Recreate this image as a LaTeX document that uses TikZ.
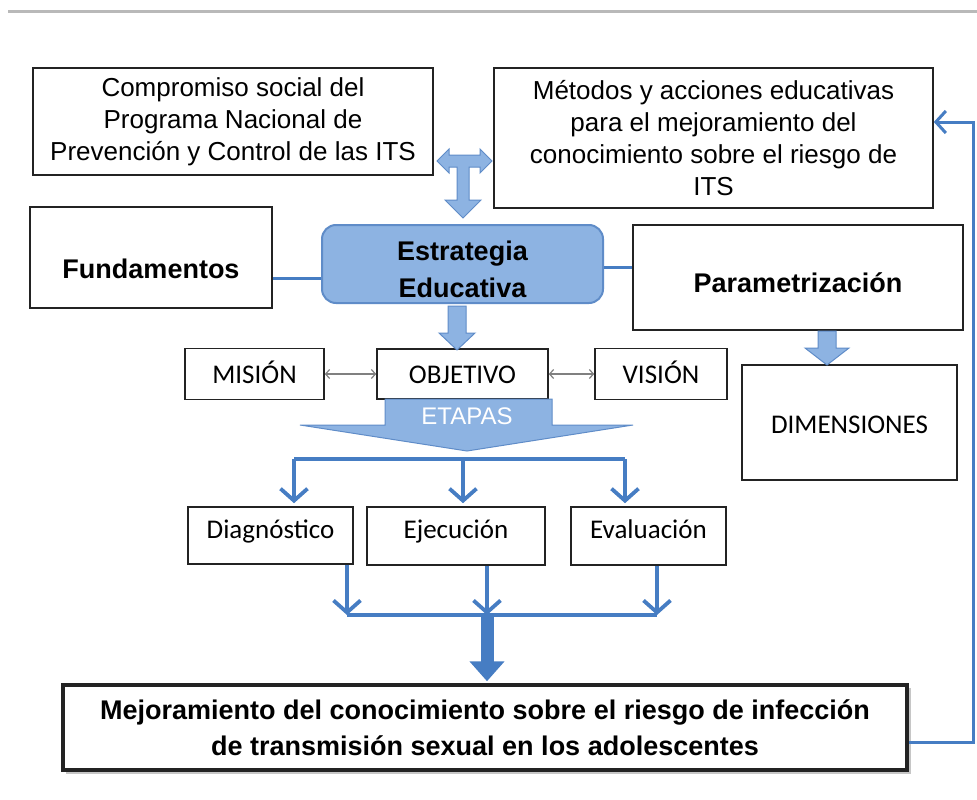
\documentclass[tikz,border=0pt]{standalone}
\usepackage{fontspec}
\setmainfont{Liberation Sans}
\newfontfamily\calfont{Carlito}
\usetikzlibrary{arrows.meta}
\definecolor{lineblue}{RGB}{70,125,195}
\definecolor{fillblue}{RGB}{141,179,226}
\definecolor{edgeblue}{RGB}{95,140,200}
\definecolor{boxline}{RGB}{35,35,35}
\begin{document}
\begin{tikzpicture}[x=1pt,y=-1pt,
  box/.style={draw=boxline, line width=1.6pt, rectangle, inner sep=0pt, align=center},
  textbox/.style={box, font=\fontsize{26}{32}\selectfont},
  boldbox/.style={box, font=\fontsize{27}{37}\selectfont\bfseries},
  calbox/.style={box, font=\calfont\fontsize{27}{32}\selectfont},
  conn/.style={draw=lineblue, line width=3.8pt},
  vArrow/.style={conn, -{Straight Barb[length=12pt,width=27pt]}},
  thinarrow/.style={draw=gray, line width=1.2pt, {Straight Barb[length=4pt,width=9pt]}-{Straight Barb[length=4pt,width=9pt]}},
  blockarrow/.style={fill=fillblue, draw=edgeblue, line width=1pt}
]
\useasboundingbox (0,0) rectangle (977,800);
\fill[white] (0,0) rectangle (977,800);
\draw[gray!55, line width=3pt] (8,12) -- (977,12);

% top boxes
\node[textbox, minimum width=400pt, minimum height=107pt] (comp) at (233,121.5)
  {Compromiso social del\\Programa Nacional de\\Prevención y Control de las ITS};
\node[textbox, minimum width=439pt, minimum height=140pt] (metodos) at (713.5,138)
  {Métodos y acciones educativas\\para el mejoramiento del\\conocimiento sobre el riesgo de\\ITS};

% middle row
\node[boldbox, minimum width=242pt, minimum height=101pt, text height=41pt, text depth=0pt] (fund) at (151,257.5) {Fundamentos};
\node[boldbox, draw=edgeblue, fill=fillblue, line width=2pt, rounded corners=14pt,
  minimum width=281pt, minimum height=78pt, text height=66pt, text depth=0pt] (estr) at (462.5,264) {Estrategia\\Educativa};
\node[boldbox, minimum width=330pt, minimum height=105pt, text height=29pt, text depth=0pt] (param) at (798,277.5) {Parametrización};

\node[calbox, minimum width=139pt, minimum height=51pt, text height=19pt, text depth=0pt] (mision) at (254.5,374) {MISIÓN};
\node[calbox, minimum width=171pt, minimum height=50pt, text height=19pt, text depth=0pt] (objetivo) at (462.5,374) {OBJETIVO};
\node[calbox, minimum width=132pt, minimum height=51pt, text height=19pt, text depth=0pt] (vision) at (661,374) {VISIÓN};
\node[calbox, minimum width=215pt, minimum height=115pt, text height=21pt, text depth=0pt] (dimen) at (849.5,422.5) {DIMENSIONES};

% stages
\node[calbox, minimum width=165pt, minimum height=57pt, text height=12pt, text depth=7pt] (diag) at (270.5,535.5) {Diagnóstico};
\node[calbox, minimum width=178pt, minimum height=58pt, text height=12pt, text depth=7pt] (ejec) at (456,536) {Ejecución};
\node[calbox, minimum width=155pt, minimum height=58pt, text height=12pt, text depth=7pt] (eval) at (648.5,536) {Evaluación};

% bottom box
\fill[gray!45] (66,688) rectangle (911,774);
\node[box, fill=white, line width=3.5pt, minimum width=844pt, minimum height=85pt,
  font=\fontsize{27}{36}\selectfont\bfseries] (bottom) at (485,727.5)
  {Mejoramiento del conocimiento sobre el riesgo de infección\\de transmisión sexual en los adolescentes};

% T-shaped block arrow
\draw[blockarrow] (437,161) -- (449,149) -- (449,155) -- (480,155) -- (480,149) -- (492,161)
  -- (480,173) -- (480,167) -- (469,167) -- (469,200) -- (481,200) -- (463,218)
  -- (445,200) -- (457,200) -- (457,167) -- (449,167) -- (449,173) -- cycle;

% Estrategia -> Objetivo block arrow
\draw[blockarrow] (448,306) -- (466,306) -- (466,333) -- (475,333) -- (457,350)
  -- (439,333) -- (448,333) -- cycle;
% Parametrizacion -> Dimensiones block arrow
\draw[blockarrow] (818,331) -- (836,331) -- (836,348) -- (849,348) -- (827,365)
  -- (805,348) -- (818,348) -- cycle;

% ETAPAS arrow
\draw[blockarrow] (385,399) -- (552,399) -- (552,425) -- (633,425) -- (467,451)
  -- (300,425) -- (385,425) -- cycle;
\node[text=white, font=\fontsize{24}{26}\selectfont] (etapas) at (467,416) {ETAPAS};

% connectors
\draw[conn, line width=3pt] ([yshift=-20.5pt]fund.east) -- ([yshift=-20.5pt]fund.east -| estr.west);
\draw[conn, line width=3pt] ([yshift=-3pt]estr.east) -- ([yshift=-3pt]estr.east -| param.west);
\draw[thinarrow] (mision.east) -- (objetivo.west);
\draw[thinarrow] (objetivo.east) -- (vision.west);

\coordinate (jL) at (294,459);
\coordinate (jM) at (463,459);
\coordinate (jR) at (625,459);
\draw[conn] (jL) -- (jR);
\draw[vArrow, shorten >=3pt] (jL) -- (diag.north -| jL);
\draw[vArrow, shorten >=3pt] (jM) -- (ejec.north -| jM);
\draw[vArrow, shorten >=3pt] (jR) -- (eval.north -| jR);

\coordinate (bL) at (347,615);
\coordinate (bM) at (487,615);
\coordinate (bR) at (657,615);
\draw[vArrow] (diag.south -| bL) -- (bL);
\draw[vArrow] (ejec.south -| bM) -- (bM);
\draw[vArrow] (eval.south -| bR) -- (bR);
\draw[conn] (bL) -- (bR);
\draw[draw=lineblue, line width=13pt, -{Triangle[length=20pt,width=34pt]}, shorten >=2pt] (bM) -- (bottom.north -| bM);

% feedback loop
\draw[conn, line width=3pt, -{Straight Barb[length=10pt,width=22pt]}]
  ([yshift=-15pt]bottom.east) -- ++(65,0) |- ([yshift=16pt]metodos.east);
\end{tikzpicture}
\end{document}
